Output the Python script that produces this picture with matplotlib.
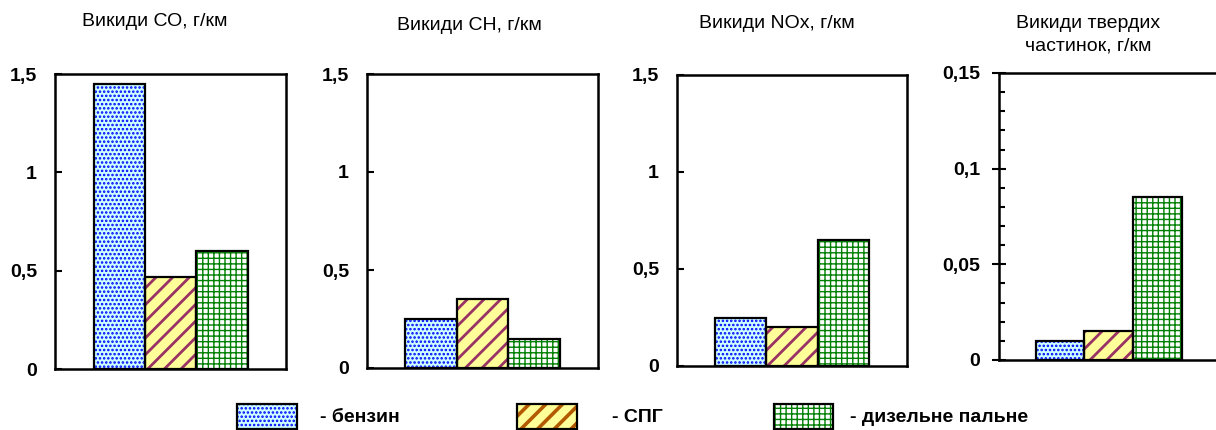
import matplotlib
matplotlib.use("Agg")
import matplotlib.pyplot as plt
from matplotlib.patches import Rectangle
from matplotlib.ticker import MultipleLocator, FuncFormatter

plt.rcParams['font.family'] = ['Liberation Sans', 'DejaVu Sans']

# ---- data ----
fuels = ["- бензин", "- СПГ", "- дизельне пальне"]
titles = ["Викиди СО, г/км", "Викиди СН, г/км", "Викиди NOx, г/км",
          "Викиди твердих\nчастинок, г/км"]
co_vals = [1.45, 0.47, 0.60]
ch_vals = [0.25, 0.35, 0.15]
nox_vals = [0.25, 0.20, 0.65]
pm_vals = [0.010, 0.015, 0.085]
ymax = [1.5, 1.5, 1.5, 0.15]
ystep = [0.5, 0.5, 0.5, 0.05]

# styles
face_cols = ["#CCFFFF", "#FFFF99", "#FFFFFF"]
hatch_cols = ["#0000FF", "#993366", "#008000"]
legend_hatch_cols = ["#0000FF", "#B35A00", "#008000"]
hatches = ["....", "//", "+++"]
hatch_lws = [1.2, 2.0, 1.0]

W, H = 1216, 430
fig = plt.figure(figsize=(W / 100, H / 100), dpi=100)

# axes boxes in pixels: left, right, top, bottom
boxes = [(55, 286, 74, 369), (367, 598, 74, 368), (677, 907, 75, 366), (999, 1218, 73, 360)]
title_pos = [(155, 22), (469, 25), (777, 23), (1088, 35)]


def fmt(v, pos):
    s = ('%.2f' % v).rstrip('0').rstrip('.')
    return s.replace('.', ',')


def hatched_bar(ax, x, h, i):
    hc = hatch_cols[i]
    ax.bar(x, h, width=1.0, color=face_cols[i], linewidth=0, zorder=2)
    with plt.rc_context({'hatch.linewidth': hatch_lws[i]}):
        b = ax.bar(x, h, width=1.0, facecolor='none', edgecolor=hc,
                   linewidth=0, hatch=hatches[i], zorder=3)
        for p in b:
            if hasattr(p, 'set_hatch_linewidth'):
                p.set_hatch_linewidth(hatch_lws[i])
    ax.bar(x, h, width=1.0, facecolor='none', edgecolor='black',
           linewidth=1.6, zorder=4)


all_vals = [co_vals, ch_vals, nox_vals, pm_vals]
for k, vals in enumerate(all_vals):
    l, r, t, b = boxes[k]
    ax = fig.add_axes([l / W, (H - b) / H, (r - l) / W, (b - t) / H])
    for i, v in enumerate(vals):
        hatched_bar(ax, i, v, i)
    ax.set_xlim(-1.25, 3.25)
    ax.set_ylim(0, ymax[k])
    ax.set_xticks([])
    ax.yaxis.set_major_locator(MultipleLocator(ystep[k]))
    ax.yaxis.set_major_formatter(FuncFormatter(fmt))
    for s in ax.spines.values():
        s.set_linewidth(1.8)
    if k < 3:
        ax.tick_params(axis='y', direction='in', length=5, width=1.5,
                       pad=13, labelsize=14)
    else:
        ax.yaxis.set_minor_locator(MultipleLocator(0.01))
        ax.tick_params(axis='y', which='major', direction='inout', length=9.4,
                       width=1.5, pad=9, labelsize=14)
        ax.tick_params(axis='y', which='minor', direction='in', length=4.3,
                       width=1.5)
    for lab in ax.get_yticklabels():
        lab.set_fontweight('bold')
    tx, ty = title_pos[k]
    fig.text(tx / W, 1 - ty / H, titles[k], ha='center', va='center',
             fontsize=14, linespacing=1.45)

# ---- legend ----
leg_boxes = [(237, 297), (517, 577), (774, 833)]
leg_text_x = [320, 612, 850]
lax = fig.add_axes([0, 0, 1, 1], zorder=-1)
lax.set_xlim(0, W)
lax.set_ylim(H, 0)
lax.axis('off')
for i, name in enumerate(fuels):
    x0, x1 = leg_boxes[i]
    lw_h = hatch_lws[i] * (1.3 if i == 1 else 1.0)
    lax.add_patch(Rectangle((x0, 404), x1 - x0, 25, facecolor=face_cols[i],
                            linewidth=0))
    with plt.rc_context({'hatch.linewidth': lw_h}):
        p = Rectangle((x0, 404), x1 - x0, 25, facecolor='none',
                      edgecolor=legend_hatch_cols[i], linewidth=0, hatch=hatches[i])
        if hasattr(p, 'set_hatch_linewidth'):
            p.set_hatch_linewidth(lw_h)
        lax.add_patch(p)
    lax.add_patch(Rectangle((x0, 404), x1 - x0, 25, facecolor='none',
                            edgecolor='black', linewidth=1.6))
    lax.text(leg_text_x[i], 418, name, ha='left', va='center',
             fontsize=14, fontweight='bold')

fig.savefig("out.png", dpi=100)
